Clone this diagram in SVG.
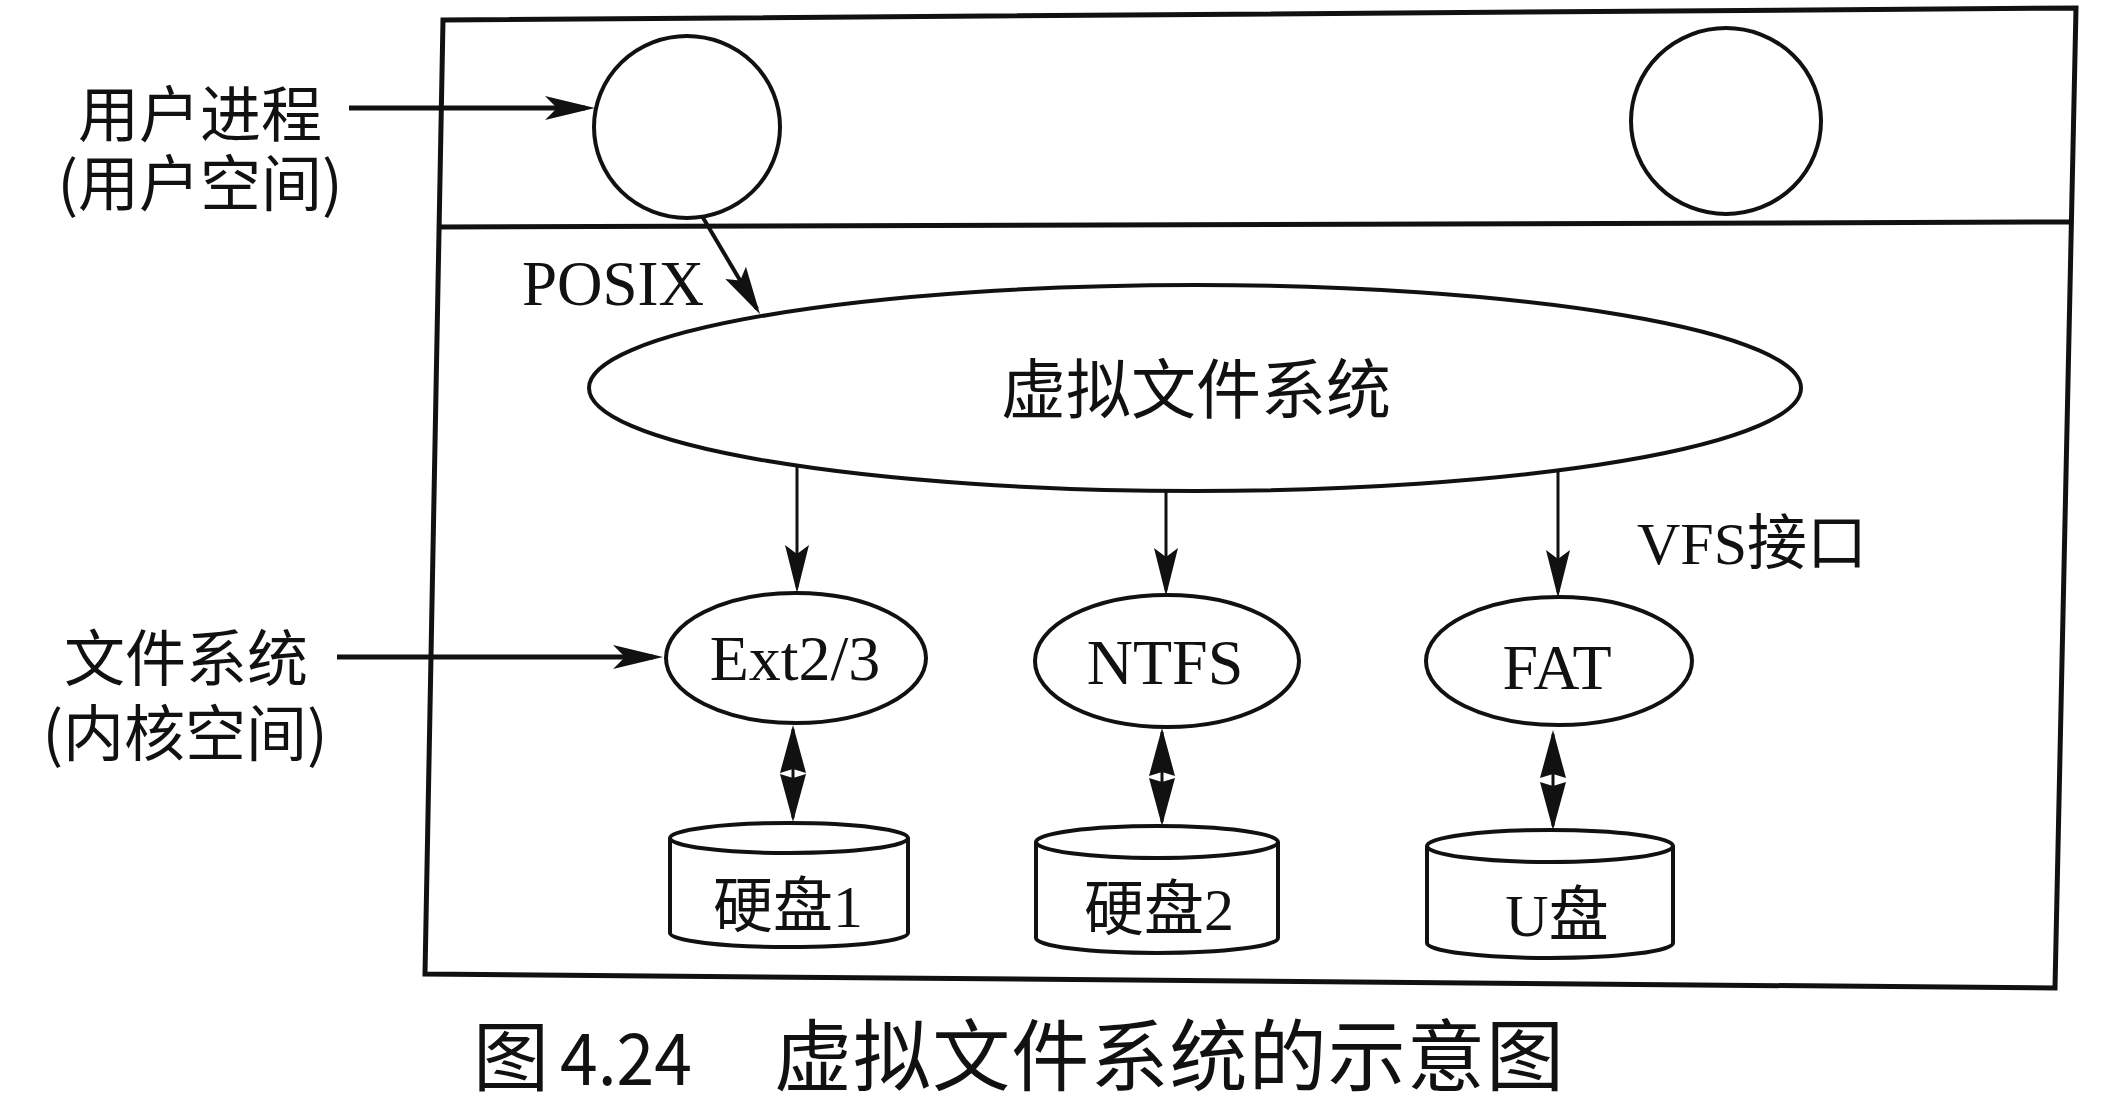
<svg xmlns="http://www.w3.org/2000/svg" width="2107" height="1112" viewBox="0 0 2107 1112">
  <style>
    .frame { fill: none; stroke: #111; stroke-width: 5; stroke-linejoin: miter; }
    .node { fill: #fff; stroke: #111; stroke-width: 4; }
    .cyl { fill: #fff; stroke: #111; stroke-width: 4; stroke-linejoin: round; }
    .thick { fill: none; stroke: #111; stroke-width: 5; }
    .thin { fill: none; stroke: #111; stroke-width: 3; }
    .cjk { font-family: "Noto Sans CJK SC", sans-serif; fill: #111; }
    .lat { font-family: "Liberation Serif", "Noto Sans CJK SC", serif; fill: #111; }
  </style>
  <defs>
    <marker id="headBig" markerUnits="userSpaceOnUse" viewBox="-52 -14 64 28" markerWidth="64" markerHeight="28" refX="0" refY="0" orient="auto">
      <path d="M10,0 L-40,-12 L-28,0 L-40,12 Z" fill="#111"/>
    </marker>
    <marker id="headDown" markerUnits="userSpaceOnUse" viewBox="-48 -14 56 28" markerWidth="56" markerHeight="28" refX="0" refY="0" orient="auto">
      <path d="M6,0 L-42,-12 L-33,0 L-42,12 Z" fill="#111"/>
    </marker>
    <marker id="headDbl" markerUnits="userSpaceOnUse" viewBox="-50 -14 56 28" markerWidth="56" markerHeight="28" refX="0" refY="0" orient="auto">
      <path d="M4,0 L-44,-13 L-40,0 L-44,13 Z" fill="#111"/>
    </marker>
  </defs>

  <g id="frame">
    <polygon class="frame" points="443,20 2076,8 2055,988 425,974"/>
    <line class="frame" x1="440" y1="227" x2="2072" y2="222"/>
  </g>

  <g id="label-user">
    <text class="cjk" font-size="61" text-anchor="middle"><tspan x="200" y="137">用户进程</tspan><tspan x="200" y="206">(用户空间)</tspan></text>
  </g>
  <g id="label-fs">
    <text class="cjk" font-size="61" text-anchor="middle"><tspan x="186" y="681">文件系统</tspan><tspan x="185" y="756">(内核空间)</tspan></text>
  </g>

  <g id="user-process-1">
    <ellipse class="node" cx="687" cy="127" rx="93" ry="91"/>
  </g>
  <g id="user-process-2">
    <ellipse class="node" cx="1726" cy="121" rx="95" ry="93"/>
  </g>

  <g id="vfs">
    <ellipse class="node" cx="1195" cy="388" rx="606" ry="103"/>
    <text class="cjk" x="1196" y="413" font-size="65" text-anchor="middle">虚拟文件系统</text>
  </g>

  <g id="ext">
    <ellipse class="node" cx="796" cy="658" rx="130" ry="65"/>
    <text class="lat" x="795" y="680" font-size="64" text-anchor="middle">Ext2/3</text>
  </g>
  <g id="ntfs">
    <ellipse class="node" cx="1167" cy="661" rx="132" ry="66"/>
    <text class="lat" x="1165" y="684" font-size="64" text-anchor="middle">NTFS</text>
  </g>
  <g id="fat">
    <ellipse class="node" cx="1559" cy="661" rx="133" ry="64"/>
    <text class="lat" x="1557" y="689" font-size="64" text-anchor="middle">FAT</text>
  </g>

  <g id="disk1">
    <path class="cyl" d="M670,838 L670,933 A119,14 0 0 0 908,933 L908,838"/>
    <ellipse class="cyl" cx="789" cy="838" rx="119" ry="15"/>
    <text class="lat" x="788" y="927" font-size="60" text-anchor="middle">硬盘1</text>
  </g>
  <g id="disk2">
    <path class="cyl" d="M1036,842 L1036,938 A121,15 0 0 0 1278,938 L1278,842"/>
    <ellipse class="cyl" cx="1157" cy="842" rx="121" ry="16"/>
    <text class="lat" x="1159" y="930" font-size="60" text-anchor="middle">硬盘2</text>
  </g>
  <g id="disk3">
    <path class="cyl" d="M1427,846 L1427,943 A123,15 0 0 0 1673,943 L1673,846"/>
    <ellipse class="cyl" cx="1550" cy="846" rx="123" ry="16"/>
    <text class="lat" x="1557" y="936" font-size="60" text-anchor="middle">U盘</text>
  </g>

  <g id="labels">
    <text class="lat" x="522" y="305" font-size="63">POSIX</text>
    <text class="lat" x="1637" y="564" font-size="60">VFS接口</text>
  </g>

  <g id="connectors">
    <line class="thick" x1="349" y1="108" x2="585" y2="108" marker-end="url(#headBig)"/>
    <line class="thick" x1="337" y1="657" x2="653" y2="657" marker-end="url(#headBig)"/>
    <line class="thin" x1="702" y1="216" x2="757" y2="309" marker-end="url(#headDown)" style="stroke-width:4"/>
    <line class="thin" x1="797" y1="466" x2="797" y2="587" marker-end="url(#headDown)"/>
    <line class="thin" x1="1166" y1="491" x2="1166" y2="590" marker-end="url(#headDown)"/>
    <line class="thin" x1="1558" y1="470" x2="1558" y2="592" marker-end="url(#headDown)"/>
    <line class="thin" x1="793" y1="773" x2="793" y2="729" marker-end="url(#headDbl)"/>
    <line class="thin" x1="793" y1="773" x2="793" y2="818" marker-end="url(#headDbl)"/>
    <line class="thin" x1="1162" y1="777" x2="1162" y2="732" marker-end="url(#headDbl)"/>
    <line class="thin" x1="1162" y1="777" x2="1162" y2="822" marker-end="url(#headDbl)"/>
    <line class="thin" x1="1553" y1="779" x2="1553" y2="734" marker-end="url(#headDbl)"/>
    <line class="thin" x1="1553" y1="779" x2="1553" y2="826" marker-end="url(#headDbl)"/>
  </g>

  <g id="caption">
    <text class="cjk" x="473" y="1085" font-size="76">图</text>
    <text class="cjk" x="560" y="1085" font-size="72" textLength="132" lengthAdjust="spacingAndGlyphs">4.24</text>
    <text class="cjk" x="774" y="1085" font-size="78" textLength="790" lengthAdjust="spacing">虚拟文件系统的示意图</text>
  </g>
</svg>
